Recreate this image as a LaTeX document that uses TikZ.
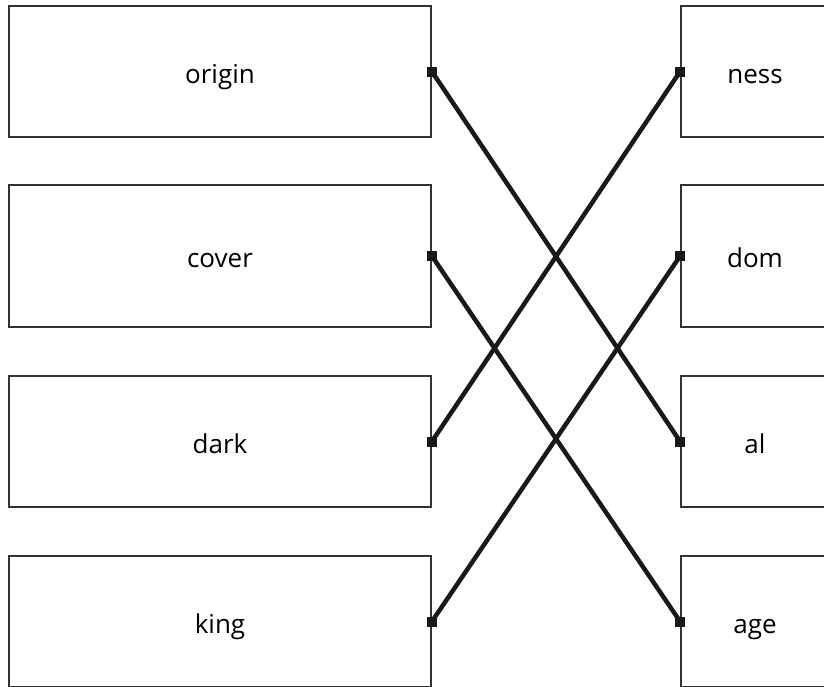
\documentclass[tikz,border=0pt]{standalone}
\usepackage{fontspec}
\setmainfont{Open Sans}
\begin{document}
\begin{tikzpicture}[x=1pt,y=-1pt]
    \tikzset{
        word/.style={draw=black!80, line width=1.8pt, minimum width=422pt, minimum height=131pt,
            inner sep=0pt, text height=23pt, text depth=0pt, font=\fontsize{26}{30}\selectfont},
        suffix/.style={word, minimum width=148pt},
        pin/.style={fill=black!90, minimum size=10pt, inner sep=0pt},
        link/.style={line width=4.5pt, black!90}
    }
    \clip (0,0) rectangle (824,686);
    % words on the left
    \node [word] (origin) at (220,71.5) {origin};
    \node [word, minimum height=142pt] (cover) at (220,256) {cover};
    \node [word] (dark) at (220,441.5) {dark};
    \node [word] (king) at (220,621.5) {king};
    % suffixes on the right
    \node [suffix] (ness) at (755,71.5) {ness};
    \node [suffix, minimum height=142pt] (dom) at (755,256) {dom};
    \node [suffix] (al) at (755,441.5) {al};
    \node [suffix] (age) at (755,621.5) {age};
    % connectors
    \draw [link] (origin.east) -- (al.west);
    \draw [link] (cover.east) -- (age.west);
    \draw [link] (dark.east) -- (ness.west);
    \draw [link] (king.east) -- (dom.west);
    \foreach \n in {origin,cover,dark,king}
        \node [pin] at (\n.east) {};
    \foreach \n in {ness,dom,al,age}
        \node [pin] at (\n.west) {};
\end{tikzpicture}
\end{document}
